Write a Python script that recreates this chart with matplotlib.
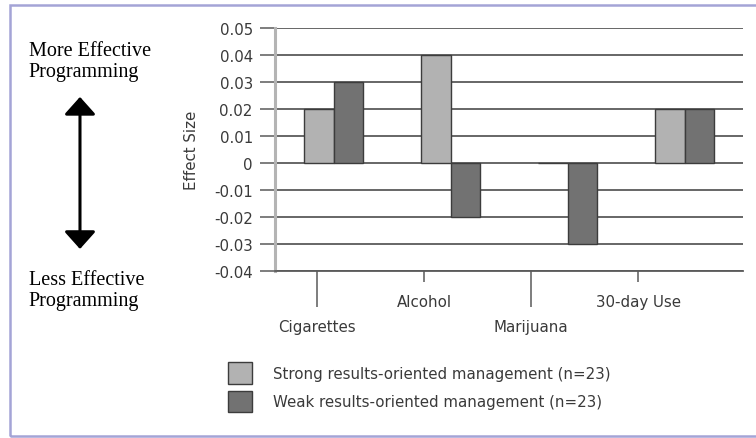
import numpy as np
import matplotlib
matplotlib.use("Agg")
import matplotlib.pyplot as plt
from matplotlib.patches import Rectangle, Patch, FancyArrowPatch

categories = ["Cigarettes", "Alcohol", "Marijuana", "30-day Use"]
strong = [0.02, 0.04, 0.0, 0.02]
weak = [0.03, -0.02, -0.03, 0.02]
series_labels = ["Strong results-oriented management (n=23)",
                 "Weak results-oriented management (n=23)"]
y_ticks = [-0.04, -0.03, -0.02, -0.01, 0, 0.01, 0.02, 0.03, 0.04, 0.05]
y_labels = ["-0.04", "-0.03", "-0.02", "-0.01", "0", "0.01", "0.02", "0.03", "0.04", "0.05"]

light = "#b2b2b2"
dark = "#727272"
edge = "#3c3c3c"
grid_c = "#5a5a5a"
txt_c = "#3a3a3a"
fs = 10.8

fig = plt.figure(figsize=(7.56, 4.39), dpi=100)
ax = fig.add_axes([0.3638, 0.3804, 0.619, 0.5542])

x = np.arange(len(categories))
w = 0.256
ax.bar(x - w / 2, strong, w, color=light, edgecolor=edge, linewidth=1.0, zorder=3)
ax.bar(x + w / 2, weak, w, color=dark, edgecolor=edge, linewidth=1.0, zorder=3)

ax.set_xlim(-0.5, len(categories) - 0.5)
ax.set_ylim(-0.04, 0.05)
ax.set_yticks(y_ticks, y_labels)
ax.yaxis.grid(True, color=grid_c, linewidth=1.3, zorder=1)
ax.set_axisbelow(True)
ax.tick_params(axis="y", length=11, width=1.1, color=grid_c, labelsize=fs,
               labelcolor=txt_c, pad=5)

for s in ["top", "right"]:
    ax.spines[s].set_visible(False)
ax.spines["left"].set_color("#b4b4b4")
ax.spines["left"].set_linewidth(2.2)
ax.spines["bottom"].set_color(grid_c)
ax.spines["bottom"].set_linewidth(1.3)

# staggered category labels (Excel style), slightly shifted like the original
tick_pos = x - 0.14 - 0.085 * x
ax.set_xticks(tick_pos[::2], categories[::2])
ax.set_xticks(tick_pos[1::2], categories[1::2], minor=True)
ax.tick_params(axis="x", which="major", length=26, width=1.1, color=grid_c,
               labelsize=fs, labelcolor=txt_c, pad=8.5)
ax.tick_params(axis="x", which="minor", length=8, width=1.1, color=grid_c,
               labelsize=fs, labelcolor=txt_c, pad=8.5)

ax.set_ylabel("Effect Size", fontsize=fs, color=txt_c, labelpad=11)

# left annotations
fig.text(0.038, 0.8246, "More Effective\nProgramming", family="Liberation Serif",
         fontsize=14.5, va="baseline", ha="left", linespacing=1.12)
fig.text(0.038, 0.303, "Less Effective\nProgramming", family="Liberation Serif",
         fontsize=14.5, va="baseline", ha="left", linespacing=1.12)
fig.patches.append(FancyArrowPatch(
    (0.1058, 0.4305), (0.1058, 0.777), transform=fig.transFigure,
    arrowstyle="<|-|>,head_length=0.77,head_width=0.69", mutation_scale=14,
    shrinkA=0, shrinkB=0, color="black", linewidth=2.2))

handles = [Patch(facecolor=light, edgecolor=edge, linewidth=1.0),
           Patch(facecolor=dark, edgecolor=edge, linewidth=1.0)]
fig.legend(handles, series_labels, loc="upper left", bbox_to_anchor=(0.302, 0.173),
           frameon=False, fontsize=fs, labelcolor=txt_c, handlelength=1.6,
           handleheight=1.85, handletextpad=1.4, labelspacing=0.45,
           borderaxespad=0, borderpad=0)

# outer frame (right side runs off the image)
fig.patches.append(Rectangle((0.0132, 0.0046), 1.01, 0.981, transform=fig.transFigure,
                             fill=False, edgecolor="#a4a4d6", linewidth=1.8))

fig.savefig("out.png", dpi=100)
